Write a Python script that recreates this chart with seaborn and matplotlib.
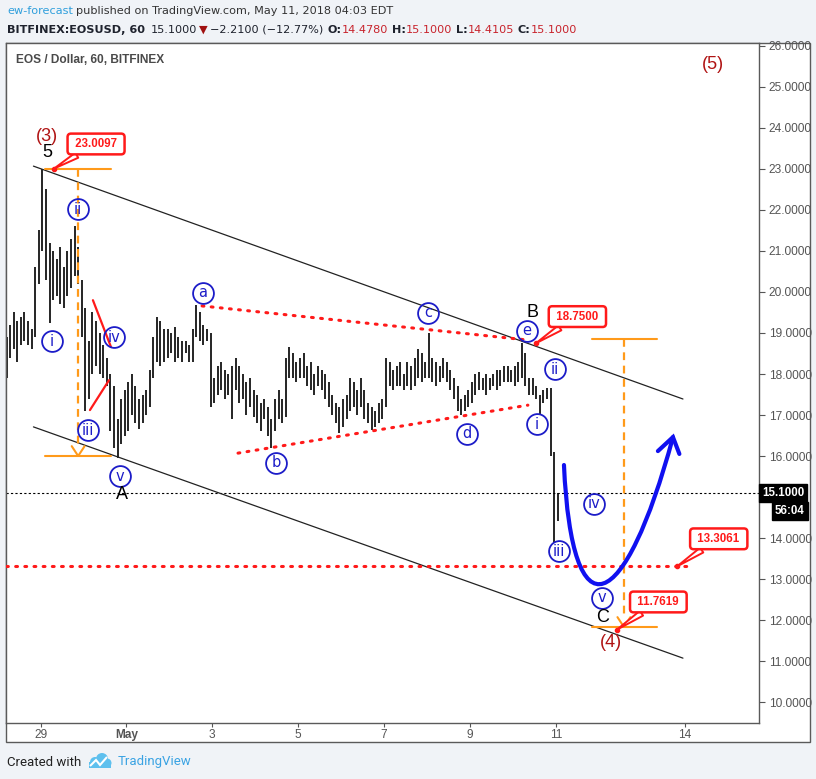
import numpy as np
import pandas as pd
import matplotlib
matplotlib.use("Agg")
import matplotlib.pyplot as plt
import matplotlib.dates as mdates
import matplotlib.transforms as mtransforms
from matplotlib.path import Path
from matplotlib.patches import PathPatch, Rectangle, Circle, Polygon
import seaborn as sns

BAR_START = "2018-04-28 05:00"
BAR_FREQ = "2h"
HIGHS = [
    18.9, 19.2, 19.5, 19.3, 19.4, 19.5, 19.3, 19.1, 20.6, 21.5,
    23.01, 22.5, 21.2, 21.0, 20.8, 21.1, 20.6, 21.0, 21.3, 21.6,
    21.1, 20.3, 19.6, 18.8, 19.5, 19.3, 19.0, 18.7, 18.4, 18.0,
    17.7, 16.9, 17.4, 17.6, 17.8, 18.0, 17.7, 17.4, 17.5, 17.6,
    18.1, 18.9, 19.4, 19.3, 19.1, 19.1, 19.0, 19.15, 18.9, 18.8,
    18.8, 18.7, 19.1, 19.68, 19.5, 19.2, 19.1, 19.0, 17.9, 18.2,
    18.3, 18.1, 18.0, 18.2, 18.4, 18.2, 18.0, 17.8, 17.9, 17.6,
    17.5, 17.3, 17.4, 17.2, 16.9, 17.4, 17.6, 17.4, 18.4, 18.66,
    18.5, 18.3, 18.4, 18.5, 18.2, 18.3, 18.0, 18.2, 18.1, 18.0,
    17.8, 17.5, 17.3, 17.2, 17.4, 17.5, 17.9, 17.8, 17.6, 17.9,
    17.6, 17.3, 17.2, 17.1, 17.3, 17.4, 18.4, 18.3, 18.1, 18.2,
    18.3, 18.0, 18.3, 18.2, 18.4, 18.6, 18.5, 18.3, 19.0, 18.4,
    18.3, 18.2, 18.4, 18.3, 18.1, 17.9, 17.7, 17.4, 17.5, 17.6,
    17.8, 18.0, 18.05, 17.9, 18.0, 17.9, 18.0, 18.1, 18.1, 18.2,
    18.2, 18.1, 18.2, 18.3, 18.75, 18.5, 17.9, 17.9, 17.7, 17.5,
    17.6, 17.65, 17.66, 16.1, 15.1,
]
LOWS = [
    17.9, 18.4, 18.6, 18.3, 18.7, 18.8, 18.7, 18.6, 18.9, 20.2,
    21.0, 20.3, 19.25, 19.8, 19.9, 19.7, 19.6, 19.9, 20.1, 20.4,
    20.2, 18.9, 17.1, 17.4, 18.0, 18.2, 18.0, 17.9, 17.7, 16.6,
    16.2, 15.95, 16.3, 16.5, 16.6, 17.0, 16.8, 16.65, 16.8, 17.0,
    17.2, 17.9, 18.3, 18.2, 18.3, 18.4, 18.5, 18.3, 18.4, 18.3,
    18.5, 18.3, 18.3, 18.9, 18.8, 18.7, 18.8, 17.2, 17.3, 17.5,
    17.6, 17.4, 17.5, 16.9, 17.6, 17.3, 17.4, 17.0, 17.2, 16.95,
    16.8, 16.6, 16.9, 16.5, 16.2, 16.6, 16.9, 16.8, 16.95, 17.9,
    17.9, 17.8, 17.9, 17.9, 17.7, 17.6, 17.5, 17.7, 17.6, 17.4,
    17.2, 17.0, 16.8, 16.56, 16.7, 16.9, 17.1, 17.2, 17.0, 17.2,
    16.9, 16.8, 16.63, 16.7, 16.8, 16.9, 17.2, 17.7, 17.6, 17.7,
    17.7, 17.6, 17.7, 17.6, 17.7, 17.9, 17.8, 17.9, 17.9, 17.8,
    17.7, 17.8, 17.9, 17.8, 17.6, 17.4, 17.1, 17.0, 17.1, 17.2,
    17.3, 17.5, 17.6, 17.6, 17.5, 17.6, 17.7, 17.6, 17.7, 17.8,
    17.8, 17.8, 17.7, 17.8, 17.9, 17.7, 17.5, 17.5, 17.4, 17.0,
    17.3, 17.4, 16.0, 13.88, 14.41,
]

PRICE_TICKS = list(range(10, 27))
DATE_TICKS = ["2018-04-29", "2018-05-01", "2018-05-03", "2018-05-05",
              "2018-05-07", "2018-05-09", "2018-05-11", "2018-05-14"]
DATE_LABELS = ["29", "May", "3", "5", "7", "9", "11", "14"]
LAST_PRICE = 15.1
COUNTDOWN = "56:04"
TARGET_LEVEL = 13.3061

# elliott wave count (label, time, price)
WAVE_CIRCLES = [
    ("ii", "2018-04-29 21:00", 22.02), ("i", "2018-04-29 06:20", 18.80),
    ("iv", "2018-04-30 17:00", 18.90), ("iii", "2018-04-30 02:30", 16.63),
    ("v", "2018-04-30 20:20", 15.51), ("a", "2018-05-02 18:50", 19.98),
    ("b", "2018-05-04 11:30", 15.83), ("c", "2018-05-08 00:30", 19.49),
    ("d", "2018-05-08 22:20", 16.54), ("e", "2018-05-10 07:50", 19.05),
    ("ii", "2018-05-10 23:30", 18.12), ("i", "2018-05-10 13:30", 16.78),
    ("iii", "2018-05-11 01:40", 13.68), ("iv", "2018-05-11 21:15", 14.83),
    ("v", "2018-05-12 01:40", 12.54),
]
WAVE_LETTERS = [("5", "2018-04-29 03:30", 23.40), ("A", "2018-04-30 21:30", 15.05),
                ("B", "2018-05-10 11:10", 19.49), ("C", "2018-05-12 02:15", 12.07)]
DEGREE_LABELS = [("(3)", "2018-04-29 03:30", 23.80), ("(4)", "2018-05-12 06:40", 11.44),
                 ("(5)", "2018-05-14 15:40", 25.56)]
# price callouts: text, point (time, price), box (time, price)
CALLOUTS = [
    ("23.0097", ("2018-04-29 07:30", 23.0097), ("2018-04-30 07:00", 23.61)),
    ("18.7500", ("2018-05-10 12:50", 18.75), ("2018-05-11 12:00", 19.40)),
    ("13.3061", ("2018-05-13 19:40", 13.3061), ("2018-05-14 19:00", 13.98)),
    ("11.7619", ("2018-05-12 10:00", 11.7619), ("2018-05-13 09:15", 12.44)),
]
CHANNEL_TIMES = ["2018-04-28 20:00", "2018-05-13 23:00"]
CHANNEL_UPPER = [23.07, 17.39]
CHANNEL_LOWER = [16.71, 11.07]
TRIANGLE_UPPER = [("2018-05-02 18:15", 19.66), ("2018-05-10 07:50", 18.83)]
TRIANGLE_LOWER = [("2018-05-03 14:20", 16.07), ("2018-05-10 08:20", 17.24)]
RED_MARKS = [
    [("2018-04-30 05:15", 19.80), ("2018-04-30 15:20", 18.66)],
    [("2018-04-30 03:35", 17.12), ("2018-04-30 14:15", 17.85)],
]
# orange measuring tools: (left, right, stem, top, bottom)
MEASURES = [
    ("2018-04-29 02:30", "2018-04-30 15:20", "2018-04-29 21:00", 23.01, 16.0),
    ("2018-05-11 20:00", "2018-05-13 08:30", "2018-05-12 14:00", 18.85, 11.83),
]
PROJECTION = [("2018-05-11 04:30", 15.78), ("2018-05-11 09:00", 11.51),
              ("2018-05-12 14:30", 12.12), ("2018-05-13 17:25", 16.46)]
PROJECTION_HEAD = [("2018-05-13 09:00", 16.12), ("2018-05-13 17:25", 16.46),
                   ("2018-05-13 21:00", 16.05)]

W, H = 816, 779
BLUE = "#1c1cc8"
RED = "#ff1a1a"
DARK_RED = "#b01313"
ORANGE = "#ff9a1a"
AXIS_GREY = "#555555"

sns.set_theme(style="white")
plt.rcParams["font.family"] = ["DejaVu Sans"]


def T(s):
    return mdates.date2num(pd.Timestamp(s).to_pydatetime())


def fx(px):
    return px / W


def fy(py):
    return 1 - py / H


fig = plt.figure(figsize=(W / 100, H / 100), dpi=100, facecolor="#f0f3f7")
fig.add_artist(Rectangle((fx(6), fy(742)), fx(810) - fx(6), fy(43) - fy(742),
                         transform=fig.transFigure, fc="white", ec="#5a5a5a",
                         lw=1, zorder=-1))
ax = fig.add_axes([fx(6), fy(723), fx(759) - fx(6), fy(43) - fy(723)])

bars = pd.DataFrame({"time": pd.date_range(BAR_START, periods=len(HIGHS), freq=BAR_FREQ),
                     "high": HIGHS, "low": LOWS})
ax.vlines(bars["time"], bars["low"], bars["high"], color="black", lw=1.2, zorder=2)

ax.set_xlim(pd.Timestamp("2018-04-28 04:40"), pd.Timestamp("2018-05-15 17:30"))
ax.set_ylim(9.488, 26.073)

# axes styling; the 15 label sits under the last-price tag
ax.yaxis.tick_right()
ax.set_yticks(PRICE_TICKS)
ax.set_yticklabels(["" if v == 15 else f"{v:.4f}" for v in PRICE_TICKS],
                   family="Liberation Sans")
ax.set_xticks([T(d) for d in DATE_TICKS])
ax.set_xticklabels(DATE_LABELS, family="Liberation Sans")
ax.get_xticklabels()[1].set_fontweight("bold")
ax.tick_params(axis="both", direction="out", length=4, width=0.8, color=AXIS_GREY,
               labelcolor=AXIS_GREY, labelsize=8.6, pad=3)
ax.tick_params(axis="y", right=True, left=False)
ax.tick_params(axis="x", bottom=True, pad=1.5, length=3)
for sp in ax.spines.values():
    sp.set_visible(True)
    sp.set_color("#5a5a5a")
    sp.set_linewidth(1)
ax.grid(False)

# channel
for ys in (CHANNEL_UPPER, CHANNEL_LOWER):
    sns.lineplot(x=[T(t) for t in CHANNEL_TIMES], y=ys, ax=ax, color="#222222",
                 lw=0.9, estimator=None, sort=False, zorder=3)

# triangle
for seg in (TRIANGLE_UPPER, TRIANGLE_LOWER):
    ax.plot([T(t) for t, _ in seg], [p for _, p in seg], color=RED, lw=2.2,
            ls=(0, (0.6, 2.4)), dash_capstyle="round", zorder=3)

for seg in RED_MARKS:
    ax.plot([T(t) for t, _ in seg], [p for _, p in seg], color=RED, lw=1.6, zorder=3)

# last price and target level
ax.axhline(LAST_PRICE, color="black", lw=0.8, ls=(0, (2, 2)), zorder=2)
ax.plot([ax.get_xlim()[0], T("2018-05-14 04:30")], [TARGET_LEVEL, TARGET_LEVEL],
        color=RED, lw=2.2, ls=(0, (0.6, 2.4)), dash_capstyle="round", zorder=3)

# orange measures
for left, right, stem, top, bottom in MEASURES:
    for lvl in (top, bottom):
        ax.plot([T(left), T(right)], [lvl, lvl], color=ORANGE, lw=1.5, zorder=3)
    ax.plot([T(stem), T(stem)], [top, bottom + 0.2], color=ORANGE, lw=1.6,
            ls=(0, (3.5, 2.5)), zorder=3)
    dx = 0.15
    ax.plot([T(stem) - dx, T(stem), T(stem) + dx], [bottom + 0.24, bottom, bottom + 0.24],
            color=ORANGE, lw=1.5, zorder=3)

# projected path
pts = [(T(t), p) for t, p in PROJECTION]
ax.add_patch(PathPatch(Path(pts, [Path.MOVETO, Path.CURVE4, Path.CURVE4, Path.CURVE4]),
                       fc="none", ec="#1010f0", lw=3, capstyle="round", zorder=4))
ax.plot([T(t) for t, _ in PROJECTION_HEAD], [p for _, p in PROJECTION_HEAD],
        color="#1010f0", lw=3, solid_capstyle="round", solid_joinstyle="miter", zorder=4)

# wave labels
for lab, t, p in WAVE_CIRCLES:
    ax.plot([T(t)], [p], marker="o", ms=15, mfc="none", mec=BLUE, mew=1.3, zorder=6)
    ax.text(T(t), p, lab, ha="center", va="center", color=BLUE, fontsize=10.5, zorder=6)
for lab, t, p in WAVE_LETTERS:
    ax.text(T(t), p, lab, ha="center", va="center", color="black", fontsize=13,
            family="Liberation Sans", zorder=6)
for lab, t, p in DEGREE_LABELS:
    ax.text(T(t), p, lab, ha="center", va="center", color=DARK_RED, fontsize=13,
            family="Liberation Sans", zorder=6)

# price callouts
for txt, (pt, pv), (bt, bv) in CALLOUTS:
    ax.plot([T(pt)], [pv], "o", ms=3, color=RED, zorder=7)
    ax.annotate(" " + txt + " ", xy=(T(pt), pv), xytext=(T(bt), bv),
                ha="center", va="center", color=RED, fontsize=8.3, fontweight="bold",
                family="Liberation Sans", zorder=7,
                bbox=dict(boxstyle="round,pad=0.38,rounding_size=0.3", fc="white",
                          ec=RED, lw=1.8),
                arrowprops=dict(arrowstyle="wedge,tail_width=0.5", fc="white", ec=RED,
                                lw=1.4, shrinkA=0, shrinkB=0))

# last price tag on the price scale
blend = mtransforms.blended_transform_factory(ax.transAxes, ax.transData)
ax.text(1.004, LAST_PRICE, f"{LAST_PRICE:.4f}", transform=blend, ha="left", va="center",
        color="white", fontsize=8.3, fontweight="bold", family="Liberation Sans",
        bbox=dict(boxstyle="square,pad=0.25", fc="black", ec="black"), clip_on=False)
ax.annotate(COUNTDOWN, xy=(1.0, LAST_PRICE), xycoords=blend, xytext=(33, -13),
            textcoords="offset points", ha="right", va="center", color="white",
            fontsize=8.3, fontweight="bold", family="Liberation Sans",
            bbox=dict(boxstyle="square,pad=0.25", fc="black", ec="black"))

ax.text(0.013, 0.975, "EOS / Dollar, 60, BITFINEX", transform=ax.transAxes, ha="left",
        va="center", color="#4a4a4a", fontsize=8.6, fontweight="bold",
        family="Liberation Sans")

# header
renderer = fig.canvas.get_renderer()


def text_run(parts, x_px, y_px, size, family="DejaVu Sans"):
    x = x_px
    for s, color, weight, gap in parts:
        t = fig.text(fx(x), fy(y_px), s, color=color, fontweight=weight, fontsize=size,
                     family=family, ha="left", va="center")
        x += t.get_window_extent(renderer).width + gap


INK = "#1e222d"
VAL = "#c8232c"
text_run([("ew-forecast", "#2f9fdc", "normal", 3),
          ("published on TradingView.com, May 11, 2018 04:03 EDT", "#333333", "normal", 0)],
         7, 11, 8.1)
text_run([("BITFINEX:EOSUSD, 60", INK, "bold", 6), ("15.1000", INK, "normal", 2),
          ("▼", "#a01010", "normal", 2), ("−2.2100 (−12.77%)", INK, "normal", 4),
          ("O:", INK, "bold", 0), ("14.4780", VAL, "normal", 4),
          ("H:", INK, "bold", 0), ("15.1000", VAL, "normal", 4),
          ("L:", INK, "bold", 0), ("14.4105", VAL, "normal", 4),
          ("C:", INK, "bold", 0), ("15.1000", VAL, "normal", 0)],
         7, 30, 8.1)

# footer
fig.text(fx(7), fy(762), "Created with", color="#222222", fontsize=9.5, family="Roboto",
         ha="left", va="center")
fig.text(fx(118), fy(762), "TradingView", color="#3aa3e3", fontsize=9.5, family="Roboto",
         ha="left", va="center")
ident = mtransforms.IdentityTransform()
for cx, cy, r in [(95, 762, 5), (102, 759, 6), (107, 763, 4.5)]:
    fig.add_artist(Circle((cx, H - cy), r, transform=ident, fc="#5ec0ee", ec="none"))
fig.add_artist(Rectangle((89, H - 768), 22, 6, transform=ident, fc="#5ec0ee", ec="none"))
fig.add_artist(Polygon([(90, H - 766), (96, H - 760), (100, H - 765), (107, H - 757)],
                       closed=False, transform=ident, fill=False, ec="white", lw=1.5))

fig.savefig("out.png", dpi=100, facecolor=fig.get_facecolor())
